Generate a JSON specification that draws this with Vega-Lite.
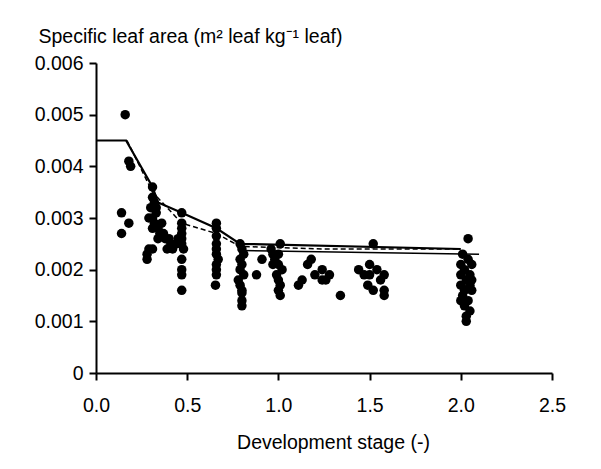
{
  "$schema": "https://vega.github.io/schema/vega-lite/v6.json",
  "width": 456,
  "height": 310,
  "autosize": {"type": "none"},
  "padding": {"left": 96, "top": 63, "right": 49, "bottom": 96},
  "background": "white",
  "config": {
    "view": {"stroke": null},
    "font": "Liberation Sans",
    "axis": {
      "grid": false,
      "domainColor": "black",
      "domainWidth": 2,
      "tickColor": "black",
      "tickWidth": 2,
      "tickSize": 7,
      "labelColor": "black",
      "labelFont": "Liberation Sans",
      "labelFontSize": 19.5,
      "labelFlush": false,
      "labelOverlap": false,
      "titleFont": "Liberation Sans",
      "titleFontSize": 19.5,
      "titleFontWeight": "normal",
      "titleColor": "black"
    }
  },
  "datasets": {
    "obs": [
      {"dvs": 0.14, "sla": 0.0031}, {"dvs": 0.14, "sla": 0.0027}, {"dvs": 0.16, "sla": 0.0050}, {"dvs": 0.18, "sla": 0.0029}, {"dvs": 0.18, "sla": 0.0041}, {"dvs": 0.19, "sla": 0.0040},
      {"dvs": 0.31, "sla": 0.0036}, {"dvs": 0.31, "sla": 0.0034}, {"dvs": 0.32, "sla": 0.0033}, {"dvs": 0.30, "sla": 0.0032}, {"dvs": 0.33, "sla": 0.0032}, {"dvs": 0.31, "sla": 0.0030}, {"dvs": 0.29, "sla": 0.0030}, {"dvs": 0.33, "sla": 0.0031}, {"dvs": 0.32, "sla": 0.0029}, {"dvs": 0.31, "sla": 0.0028}, {"dvs": 0.34, "sla": 0.0028}, {"dvs": 0.36, "sla": 0.0029}, {"dvs": 0.35, "sla": 0.0027}, {"dvs": 0.37, "sla": 0.0027}, {"dvs": 0.38, "sla": 0.0026}, {"dvs": 0.34, "sla": 0.0026}, {"dvs": 0.40, "sla": 0.0026}, {"dvs": 0.41, "sla": 0.0025}, {"dvs": 0.39, "sla": 0.0024}, {"dvs": 0.42, "sla": 0.0024}, {"dvs": 0.29, "sla": 0.0024}, {"dvs": 0.28, "sla": 0.0023}, {"dvs": 0.28, "sla": 0.0022}, {"dvs": 0.31, "sla": 0.0024}, {"dvs": 0.44, "sla": 0.0025}, {"dvs": 0.45, "sla": 0.0026},
      {"dvs": 0.47, "sla": 0.0031}, {"dvs": 0.47, "sla": 0.0029}, {"dvs": 0.47, "sla": 0.0028}, {"dvs": 0.47, "sla": 0.0027}, {"dvs": 0.47, "sla": 0.0026}, {"dvs": 0.47, "sla": 0.0025}, {"dvs": 0.48, "sla": 0.0024}, {"dvs": 0.47, "sla": 0.0022}, {"dvs": 0.47, "sla": 0.0020}, {"dvs": 0.47, "sla": 0.0019}, {"dvs": 0.47, "sla": 0.0016},
      {"dvs": 0.66, "sla": 0.0029}, {"dvs": 0.66, "sla": 0.0028}, {"dvs": 0.66, "sla": 0.00265}, {"dvs": 0.66, "sla": 0.0025}, {"dvs": 0.66, "sla": 0.0024}, {"dvs": 0.66, "sla": 0.0023}, {"dvs": 0.66, "sla": 0.0021}, {"dvs": 0.66, "sla": 0.0020}, {"dvs": 0.655, "sla": 0.0017}, {"dvs": 0.67, "sla": 0.0022}, {"dvs": 0.66, "sla": 0.0019},
      {"dvs": 0.79, "sla": 0.0025}, {"dvs": 0.80, "sla": 0.0024}, {"dvs": 0.79, "sla": 0.0022}, {"dvs": 0.80, "sla": 0.0021}, {"dvs": 0.79, "sla": 0.0020}, {"dvs": 0.78, "sla": 0.0018}, {"dvs": 0.79, "sla": 0.0017}, {"dvs": 0.80, "sla": 0.00155}, {"dvs": 0.80, "sla": 0.0014}, {"dvs": 0.80, "sla": 0.0013}, {"dvs": 0.81, "sla": 0.0019}, {"dvs": 0.81, "sla": 0.0023}, {"dvs": 0.80, "sla": 0.0016},
      {"dvs": 0.88, "sla": 0.0019}, {"dvs": 0.91, "sla": 0.0022},
      {"dvs": 1.01, "sla": 0.0025}, {"dvs": 0.97, "sla": 0.0023}, {"dvs": 0.97, "sla": 0.0021}, {"dvs": 1.00, "sla": 0.0023}, {"dvs": 1.00, "sla": 0.0021}, {"dvs": 0.99, "sla": 0.0019}, {"dvs": 1.00, "sla": 0.0018}, {"dvs": 1.01, "sla": 0.0017}, {"dvs": 1.00, "sla": 0.0016}, {"dvs": 1.01, "sla": 0.0015}, {"dvs": 0.98, "sla": 0.0022}, {"dvs": 1.02, "sla": 0.0020}, {"dvs": 0.96, "sla": 0.0024},
      {"dvs": 1.18, "sla": 0.0022}, {"dvs": 1.16, "sla": 0.0021}, {"dvs": 1.24, "sla": 0.0020}, {"dvs": 1.28, "sla": 0.0019}, {"dvs": 1.13, "sla": 0.0018}, {"dvs": 1.11, "sla": 0.0017}, {"dvs": 1.24, "sla": 0.0018}, {"dvs": 1.34, "sla": 0.0015}, {"dvs": 1.20, "sla": 0.0019}, {"dvs": 1.26, "sla": 0.0018},
      {"dvs": 1.52, "sla": 0.0025}, {"dvs": 1.44, "sla": 0.0020}, {"dvs": 1.50, "sla": 0.0021}, {"dvs": 1.49, "sla": 0.0017}, {"dvs": 1.58, "sla": 0.0019}, {"dvs": 1.52, "sla": 0.0016}, {"dvs": 1.58, "sla": 0.0016}, {"dvs": 1.58, "sla": 0.0015}, {"dvs": 1.54, "sla": 0.0020}, {"dvs": 1.47, "sla": 0.0019}, {"dvs": 1.56, "sla": 0.0018}, {"dvs": 1.50, "sla": 0.0019},
      {"dvs": 2.04, "sla": 0.0026}, {"dvs": 2.01, "sla": 0.0023}, {"dvs": 2.04, "sla": 0.0022}, {"dvs": 2.00, "sla": 0.0021}, {"dvs": 2.02, "sla": 0.0020}, {"dvs": 2.05, "sla": 0.0019}, {"dvs": 2.00, "sla": 0.0019}, {"dvs": 2.03, "sla": 0.0018}, {"dvs": 2.06, "sla": 0.0018}, {"dvs": 2.00, "sla": 0.0017}, {"dvs": 2.05, "sla": 0.0017}, {"dvs": 2.02, "sla": 0.0016}, {"dvs": 2.06, "sla": 0.0016}, {"dvs": 2.01, "sla": 0.0015}, {"dvs": 2.04, "sla": 0.0014}, {"dvs": 2.02, "sla": 0.0013}, {"dvs": 2.05, "sla": 0.0012}, {"dvs": 2.03, "sla": 0.0011}, {"dvs": 2.03, "sla": 0.0010}, {"dvs": 2.00, "sla": 0.0014}, {"dvs": 2.06, "sla": 0.0021}
    ],
    "sim": [
      {"series": "a", "order": 1, "dvs": 0.0, "sla": 0.0045},
      {"series": "a", "order": 2, "dvs": 0.165, "sla": 0.0045},
      {"series": "a", "order": 3, "dvs": 0.31, "sla": 0.0036},
      {"series": "a", "order": 4, "dvs": 0.34, "sla": 0.0033},
      {"series": "a", "order": 5, "dvs": 0.47, "sla": 0.0031},
      {"series": "a", "order": 6, "dvs": 0.66, "sla": 0.0028},
      {"series": "a", "order": 7, "dvs": 0.79, "sla": 0.0025},
      {"series": "a", "order": 8, "dvs": 2.0, "sla": 0.0024},
      {"series": "b", "order": 1, "dvs": 0.17, "sla": 0.0045},
      {"series": "b", "order": 2, "dvs": 0.31, "sla": 0.0035},
      {"series": "b", "order": 3, "dvs": 0.47, "sla": 0.0029},
      {"series": "b", "order": 4, "dvs": 0.66, "sla": 0.0027},
      {"series": "b", "order": 5, "dvs": 0.79, "sla": 0.00245},
      {"series": "b", "order": 6, "dvs": 1.25, "sla": 0.0024},
      {"series": "b", "order": 7, "dvs": 2.0, "sla": 0.0024},
      {"series": "c", "order": 1, "dvs": 0.8, "sla": 0.00237},
      {"series": "c", "order": 2, "dvs": 2.1, "sla": 0.0023}
    ]
  },
  "layer": [
    {
      "data": {"name": "obs"},
      "mark": {"type": "circle", "color": "black", "opacity": 1, "size": 90},
      "encoding": {
        "x": {
          "field": "dvs", "type": "quantitative",
          "scale": {"domain": [0, 2.5], "nice": false, "zero": false},
          "axis": {
            "values": [0, 0.5, 1, 1.5, 2, 2.5],
            "format": ".1f",
            "labelPadding": 16,
            "title": "Development stage (-)",
            "titleX": 237,
            "titleY": 75,
            "titleBaseline": "alphabetic"
          }
        },
        "y": {
          "field": "sla", "type": "quantitative",
          "scale": {"domain": [0, 0.006], "nice": false},
          "axis": {
            "values": [0, 0.001, 0.002, 0.003, 0.004, 0.005, 0.006],
            "labelExpr": "datum.value == 0 ? '0' : format(datum.value, '.3f')",
            "labelPadding": 6,
            "title": "Specific leaf area (m² leaf kg⁻¹ leaf)",
            "titleAngle": 0,
            "titleAlign": "left",
            "titleBaseline": "alphabetic",
            "titleX": -58,
            "titleY": -21
          }
        }
      }
    },
    {
      "data": {"name": "sim"},
      "transform": [{"filter": "datum.series == 'b'"}],
      "mark": {"type": "line", "color": "black", "strokeWidth": 1.5, "strokeDash": [5, 3]},
      "encoding": {
        "x": {"field": "dvs", "type": "quantitative"},
        "y": {"field": "sla", "type": "quantitative"},
        "order": {"field": "order"}
      }
    },
    {
      "data": {"name": "sim"},
      "transform": [{"filter": "datum.series == 'c'"}],
      "mark": {"type": "line", "color": "black", "strokeWidth": 1.5},
      "encoding": {
        "x": {"field": "dvs", "type": "quantitative"},
        "y": {"field": "sla", "type": "quantitative"},
        "order": {"field": "order"}
      }
    },
    {
      "data": {"name": "sim"},
      "transform": [{"filter": "datum.series == 'a'"}],
      "mark": {"type": "line", "color": "black", "strokeWidth": 2.2},
      "encoding": {
        "x": {"field": "dvs", "type": "quantitative"},
        "y": {"field": "sla", "type": "quantitative"},
        "order": {"field": "order"}
      }
    }
  ]
}
